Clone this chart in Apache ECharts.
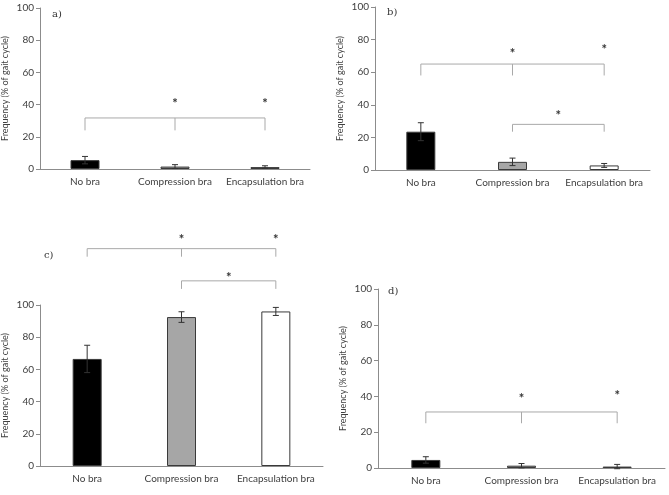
<!DOCTYPE html>
<html>
<head>
<meta charset="utf-8">
<script src="https://cdn.jsdelivr.net/npm/echarts@6/dist/echarts.min.js"></script>
<style>
  html, body { margin: 0; padding: 0; background: #fff; }
  #chart { width: 669px; height: 495px; }
</style>
</head>
<body>
<div id="chart"></div>
<script>
const categories = ['No bra', 'Compression bra', 'Encapsulation bra'];
const barColors = ['#000000', '#a6a6a6', '#ffffff'];

// mean frequency (% of gait cycle) per panel
const valuesA = [5.5, 1.5, 1.2];
const valuesB = [23.5, 5.0, 2.8];
const valuesC = [66.5, 92.5, 96.0];
const valuesD = [4.5, 1.3, 0.8];

// standard deviation (error bars)
const errorsA = [2.3, 1.2, 0.8];
const errorsB = [5.5, 2.3, 1.2];
const errorsC = [8.5, 3.3, 2.5];
const errorsD = [1.8, 1.2, 1.2];

// brackets: [from, to, lineY, legEndY, middleLeg]
const bracketsA = [[0, 2, 31.7, 24, 1]];
const bracketsB = [[0, 2, 65, 58, 1], [1, 2, 28, 23.5, 0]];
const bracketsC = [[0, 2, 135, 130, 1], [1, 2, 115, 110, 0]];
const bracketsD = [[0, 2, 31.3, 25, 1]];

// significance stars: [category position, y]
const starsA = [[1, 41.6], [2, 41.6]];
const starsB = [[1, 72.5], [2, 75], [1.5, 34.5]];
const starsC = [[1, 142], [2, 142], [1.5, 118]];
const starsD = [[1, 39.7], [2, 41.3]];

const panels = [
  { label: 'a)', values: valuesA, errors: errorsA, brackets: bracketsA, stars: starsA,
    grid: { left: 40, top: 8, width: 270, height: 161 }, labelPos: [52, 9] },
  { label: 'b)', values: valuesB, errors: errorsB, brackets: bracketsB, stars: starsB,
    grid: { left: 375, top: 7, width: 275, height: 163 }, labelPos: [387, 7] },
  { label: 'c)', values: valuesC, errors: errorsC, brackets: bracketsC, stars: starsC,
    grid: { left: 40, top: 305, width: 283, height: 161 }, labelPos: [44, 250] },
  { label: 'd)', values: valuesD, errors: errorsD, brackets: bracketsD, stars: starsD,
    grid: { left: 378, top: 289, width: 287, height: 179 }, labelPos: [388, 286] }
];

const axisColor = '#8c8c8c';
const textColor = '#404040';
const fontFamily = 'Lato, "Open Sans", sans-serif';

// category axis coords do not interpolate between ticks, so do it here
function coordAt(api, x, y) {
  const lo = Math.floor(x), hi = Math.ceil(x);
  const a = api.coord([lo, y]);
  if (lo === hi) return a;
  const b = api.coord([hi, y]);
  const t = x - lo;
  return [a[0] + (b[0] - a[0]) * t, a[1]];
}

const grids = [];
const xAxes = [];
const yAxes = [];
const series = [];
const graphics = [];

panels.forEach((p, i) => {
  grids.push(p.grid);
  xAxes.push({
    type: 'category',
    gridIndex: i,
    data: categories,
    axisLine: { lineStyle: { color: axisColor, width: 1 } },
    axisTick: { show: false },
    axisLabel: { color: textColor, fontSize: 10, fontFamily: fontFamily, margin: 8, interval: 0 }
  });
  yAxes.push({
    type: 'value',
    gridIndex: i,
    min: 0,
    max: 100,
    interval: 20,
    name: 'Frequency (% of gait cycle)',
    nameLocation: 'middle',
    nameGap: 30,
    nameTextStyle: { color: textColor, fontSize: 9, fontFamily: fontFamily },
    axisLine: { show: true, lineStyle: { color: axisColor, width: 1 } },
    axisTick: { show: true, length: 4, lineStyle: { color: axisColor } },
    axisLabel: { color: textColor, fontSize: 10, fontFamily: fontFamily, margin: 6 },
    splitLine: { show: false }
  });

  series.push({
    type: 'bar',
    xAxisIndex: i,
    yAxisIndex: i,
    barWidth: 29,
    data: p.values.map((v, k) => ({
      value: v,
      itemStyle: { color: barColors[k], borderColor: '#3a3a3a', borderWidth: 1 }
    })),
    z: 2
  });

  series.push({
    type: 'custom',
    xAxisIndex: i,
    yAxisIndex: i,
    data: p.values.map((v, k) => [k, v - p.errors[k], v + p.errors[k]]),
    renderItem: function (params, api) {
      const lo = api.coord([api.value(0), api.value(1)]);
      const hi = api.coord([api.value(0), api.value(2)]);
      const cap = 3;
      const style = { stroke: '#333', lineWidth: 1, fill: null };
      return {
        type: 'group',
        children: [
          { type: 'line', shape: { x1: lo[0], y1: lo[1], x2: hi[0], y2: hi[1] }, style: style },
          { type: 'line', shape: { x1: hi[0] - cap, y1: hi[1], x2: hi[0] + cap, y2: hi[1] }, style: style },
          { type: 'line', shape: { x1: lo[0] - cap, y1: lo[1], x2: lo[0] + cap, y2: lo[1] }, style: style }
        ]
      };
    },
    z: 3
  });

  series.push({
    type: 'custom',
    xAxisIndex: i,
    yAxisIndex: i,
    clip: false,
    data: p.brackets,
    renderItem: function (params, api) {
      const from = api.value(0), to = api.value(1);
      const yLine = api.value(2), yLeg = api.value(3);
      const a = api.coord([from, yLine]);
      const b = api.coord([to, yLine]);
      const aLeg = api.coord([from, yLeg]);
      const style = { stroke: '#a9a9a9', lineWidth: 1, fill: null };
      const children = [
        { type: 'polyline', shape: { points: [[aLeg[0], aLeg[1]], a, b, [b[0], aLeg[1]]] }, style: style }
      ];
      if (api.value(4)) {
        const m = coordAt(api, (from + to) / 2, yLine);
        children.push({ type: 'line', shape: { x1: m[0], y1: m[1], x2: m[0], y2: aLeg[1] }, style: style });
      }
      return { type: 'group', children: children };
    },
    z: 1
  });

  series.push({
    type: 'custom',
    xAxisIndex: i,
    yAxisIndex: i,
    clip: false,
    data: p.stars,
    renderItem: function (params, api) {
      const pt = coordAt(api, api.value(0), api.value(1));
      return {
        type: 'text',
        x: pt[0],
        y: pt[1] + 2,
        style: { text: '*', fill: '#333', font: 'bold 13px ' + fontFamily, align: 'center', verticalAlign: 'middle' }
      };
    },
    z: 4
  });

  graphics.push({
    type: 'text',
    left: p.labelPos[0],
    top: p.labelPos[1],
    style: { text: p.label, fill: '#333', font: '10px "DejaVu Serif", serif' }
  });
});

const chart = echarts.init(document.getElementById('chart'));
chart.setOption({
  animation: false,
  backgroundColor: '#ffffff',
  grid: grids,
  xAxis: xAxes,
  yAxis: yAxes,
  series: series,
  graphic: graphics
});
</script>
</body>
</html>
